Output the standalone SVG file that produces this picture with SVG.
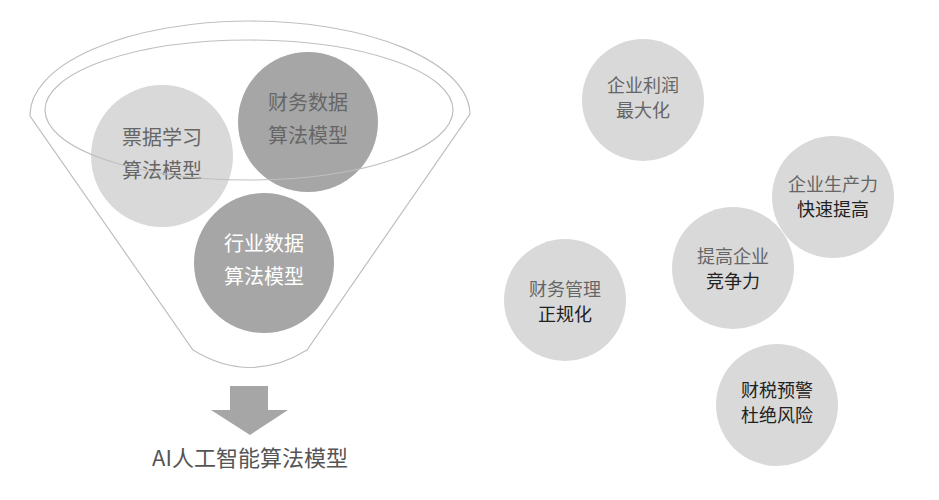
<svg xmlns="http://www.w3.org/2000/svg" width="939" height="500" viewBox="0 0 939 500">
<style>
text{font-family:"Noto Sans CJK SC","Noto Sans",sans-serif;text-anchor:middle}
.l{fill:none;stroke:#bfbfbf;stroke-width:1.2}
.c1{fill:#d9d9d9}.c2{fill:#a6a6a6}
.t{font-size:18px;fill:#666}
.tw{font-size:18px;fill:#fff}
.tb{font-size:18px;fill:#222}
.b{font-size:20px}
</style>
<rect width="939" height="500" fill="#fff"/>
<g id="funnel">
<path class="l" d="M30,116 A220,94 0 0 1 470,114 L307,350 Q250,385 193,350 Z"/>
</g>
<g id="n1"><circle class="c1" cx="162" cy="156" r="71"/><text class="t b" x="162" y="145">票据学习</text><text class="t b" x="162" y="178">算法模型</text></g>
<g id="n2"><circle class="c2" cx="308" cy="122" r="70"/><text class="t b" x="308" y="110">财务数据</text><text class="t b" x="308" y="143">算法模型</text></g>
<g id="ring"><ellipse class="l" cx="249" cy="110" rx="204" ry="70"/></g>
<g id="n3"><circle class="c2" cx="264" cy="263" r="70"/><text class="tw b" x="264" y="251">行业数据</text><text class="tw b" x="264" y="284">算法模型</text></g>
<g id="arrow"><path fill="#a6a6a6" d="M230,386 H268 V410 H288 L250,435 L211,410 H230 Z"/></g>
<text x="250" y="466" font-size="22" fill="#555">AI人工智能算法模型</text>
<g id="r1"><circle class="c1" cx="643" cy="100" r="61"/><text class="t" x="643" y="92">企业利润</text><text class="t" x="643" y="117">最大化</text></g>
<g id="r2"><circle class="c1" cx="833" cy="197" r="61"/><text class="t" x="833" y="191">企业生产力</text><text class="tb" x="833" y="216">快速提高</text></g>
<g id="r3"><circle class="c1" cx="733" cy="268" r="61"/><text class="t" x="733" y="263">提高企业</text><text class="tb" x="733" y="288">竞争力</text></g>
<g id="r4"><circle class="c1" cx="565" cy="300" r="61"/><text class="t" x="565" y="296">财务管理</text><text class="tb" x="565" y="321">正规化</text></g>
<g id="r5"><circle class="c1" cx="777" cy="405" r="61"/><text class="tb" x="777" y="397">财税预警</text><text class="tb" x="777" y="422">杜绝风险</text></g>
</svg>
